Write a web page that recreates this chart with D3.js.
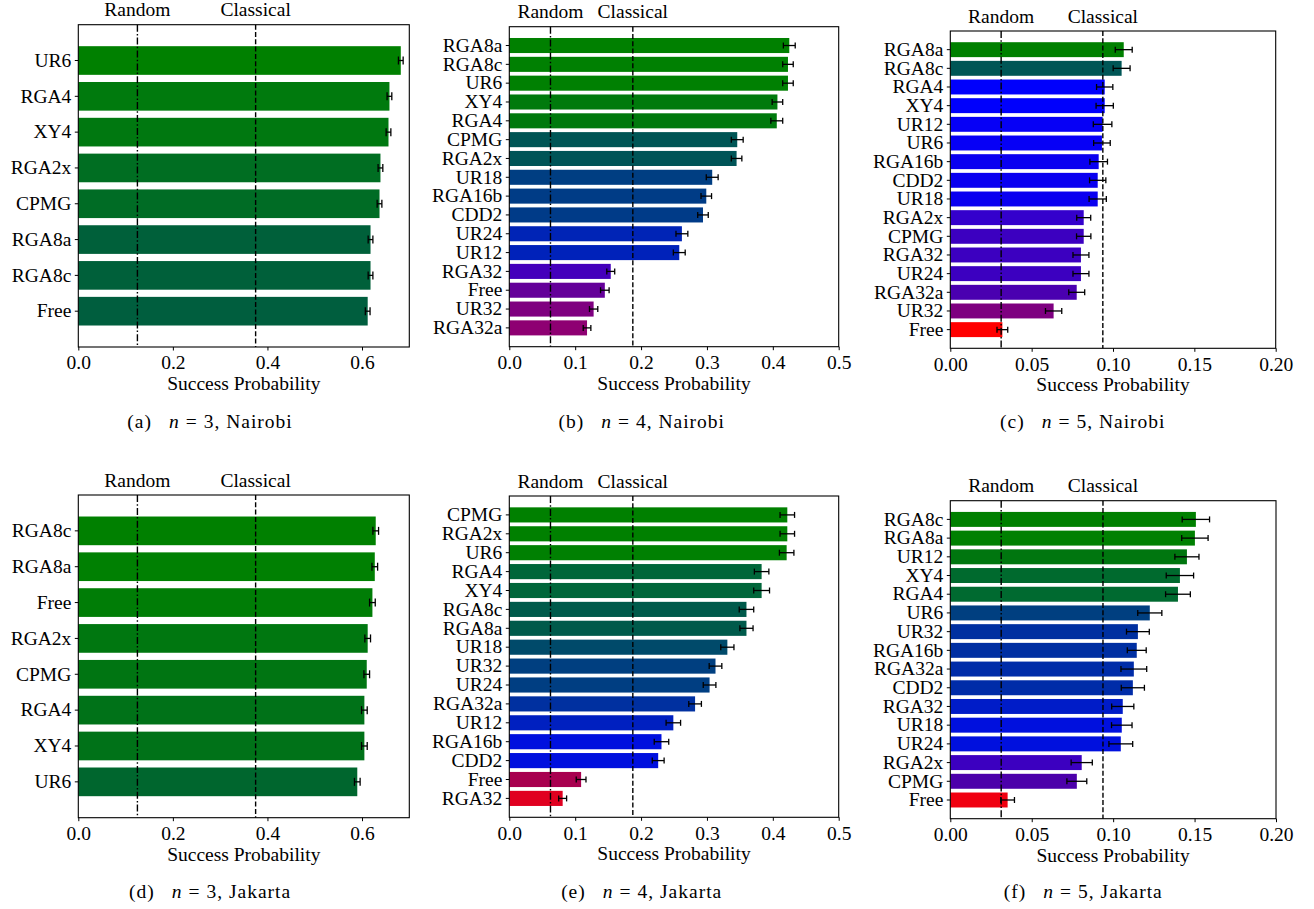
<!DOCTYPE html>
<html>
<head>
<meta charset="utf-8">
<script src="https://cdn.jsdelivr.net/npm/d3@7"></script>
<style>
  html, body { margin: 0; padding: 0; background: #fff; }
</style>
</head>
<body>
<svg id="chart" width="1314" height="909" style="font-family: Tinos, 'Liberation Serif', 'Times New Roman', serif; font-size: 19.5px;"></svg>
<script>
// ---------- DATA ----------
// (a) n = 3, Nairobi
const catsA = ["UR6", "RGA4", "XY4", "RGA2x", "CPMG", "RGA8a", "RGA8c", "Free"];
const valsA = [0.682, 0.658, 0.656, 0.639, 0.637, 0.618, 0.618, 0.612];
const errsA = [0.005, 0.005, 0.005, 0.005, 0.005, 0.005, 0.005, 0.005];
const colorsA = ["#008000", "#007a0d", "#007810", "#006e22", "#006c25", "#00603a", "#00603a", "#005e3e"];

// (b) n = 4, Nairobi
const catsB = ["RGA8a", "RGA8c", "UR6", "XY4", "RGA4", "CPMG", "RGA2x", "UR18", "RGA16b", "CDD2", "UR24", "UR12", "RGA32", "Free", "UR32", "RGA32a"];
const valsB = [0.425, 0.423, 0.423, 0.407, 0.406, 0.346, 0.345, 0.308, 0.299, 0.294, 0.262, 0.258, 0.154, 0.145, 0.128, 0.118];
const errsB = [0.009, 0.008, 0.008, 0.008, 0.009, 0.009, 0.008, 0.009, 0.008, 0.008, 0.009, 0.009, 0.006, 0.0065, 0.0063, 0.0058];
const colorsB = ["#008000", "#008002", "#008002", "#007a0c", "#00790d", "#005555", "#005457", "#003e82", "#003c86", "#003b88", "#0024b6", "#0022ba", "#4400bb", "#640099", "#7f0080", "#8e0072"];

// (c) n = 5, Nairobi
const catsC = ["RGA8a", "RGA8c", "RGA4", "XY4", "UR12", "UR6", "RGA16b", "CDD2", "UR18", "RGA2x", "CPMG", "RGA32", "UR24", "RGA32a", "UR32", "Free"];
const valsC = [0.1066, 0.1053, 0.0949, 0.0949, 0.0936, 0.0932, 0.0912, 0.0906, 0.0906, 0.0820, 0.0820, 0.0803, 0.0803, 0.0777, 0.0635, 0.0320];
const errsC = [0.0052, 0.0052, 0.0050, 0.0053, 0.0057, 0.0051, 0.0054, 0.0050, 0.0053, 0.0043, 0.0044, 0.0049, 0.0049, 0.0049, 0.0050, 0.0033];
const colorsC = ["#008000", "#005656", "#0000fc", "#0000fc", "#0600f6", "#0600f6", "#0a00f0", "#0a00f0", "#0a00f0", "#3400cc", "#3c00c0", "#3c00c0", "#3c00c0", "#4a00b0", "#7e0080", "#ff0000"];

// (d) n = 3, Jakarta
const catsD = ["RGA8c", "RGA8a", "Free", "RGA2x", "CPMG", "RGA4", "XY4", "UR6"];
const valsD = [0.629, 0.627, 0.622, 0.612, 0.610, 0.605, 0.605, 0.590];
const errsD = [0.006, 0.006, 0.006, 0.006, 0.006, 0.006, 0.006, 0.006];
const colorsD = ["#008000", "#008002", "#007d06", "#007710", "#007512", "#007218", "#007218", "#00662e"];

// (e) n = 4, Jakarta
const catsE = ["CPMG", "RGA2x", "UR6", "RGA4", "XY4", "RGA8c", "RGA8a", "UR18", "UR32", "UR24", "RGA32a", "UR12", "RGA16b", "CDD2", "Free", "RGA32"];
const valsE = [0.422, 0.422, 0.421, 0.383, 0.383, 0.360, 0.360, 0.331, 0.313, 0.304, 0.282, 0.249, 0.231, 0.226, 0.109, 0.081];
const errsE = [0.011, 0.011, 0.011, 0.011, 0.012, 0.011, 0.010, 0.010, 0.0096, 0.0096, 0.0096, 0.011, 0.011, 0.009, 0.0074, 0.006];
const colorsE = ["#008000", "#008000", "#008002", "#00663a", "#00663a", "#005a4b", "#005a4b", "#004a6a", "#003f80", "#003e82", "#0030a0", "#0020c0", "#0010de", "#0010de", "#a8004f", "#e00020"];

// (f) n = 5, Jakarta
const catsF = ["RGA8c", "RGA8a", "UR12", "XY4", "RGA4", "UR6", "UR32", "RGA16b", "RGA32a", "CDD2", "RGA32", "UR18", "UR24", "RGA2x", "CPMG", "Free"];
const valsF = [0.1508, 0.1502, 0.1453, 0.1410, 0.1398, 0.1225, 0.1152, 0.1145, 0.1127, 0.1121, 0.1059, 0.1053, 0.1047, 0.0807, 0.0777, 0.0352];
const errsF = [0.0084, 0.0081, 0.0074, 0.0084, 0.0076, 0.0074, 0.0070, 0.0058, 0.0079, 0.0071, 0.0068, 0.0063, 0.0073, 0.0065, 0.0061, 0.0042];
const colorsF = ["#008000", "#008002", "#00760f", "#006a2e", "#006a30", "#003f80", "#0030a0", "#002fa2", "#002ca8", "#002ca8", "#001cc8", "#0010de", "#0010de", "#3c00c0", "#4c00aa", "#f00010"];

// reference lines (random guess and classical bound) for n = 3, 4, 5
const randomLines = [1 / 8, 1 / 16, 1 / 32];
const classicalLines = [3 / 8, 3 / 16, 3 / 32];

// x-axis ticks for n = 3, 4, 5
const ticksN3 = [0, 0.2, 0.4, 0.6];
const ticksN4 = [0, 0.1, 0.2, 0.3, 0.4, 0.5];
const ticksN5 = [0, 0.05, 0.10, 0.15, 0.20];
const xMax = [0.7, 0.5, 0.2];

const captionLetters = ["a", "b", "c", "d", "e", "f"];
const captionN = [3, 4, 5, 3, 4, 5];
const captionDevice = ["Nairobi", "Nairobi", "Nairobi", "Jakarta", "Jakarta", "Jakarta"];

// ---------- LAYOUT ----------
const panels = [
  { cats: catsA, vals: valsA, errs: errsA, colors: colorsA, k: 0, ticks: ticksN3, fmt: ".1f", L: 78.3, R: 409.3, T: 24.7, B: 347, cx: 210, cy: 428.3, cap: 4 },
  { cats: catsB, vals: valsB, errs: errsB, colors: colorsB, k: 1, ticks: ticksN4, fmt: ".1f", L: 509.3, R: 838.7, T: 26.7, B: 346.7, cx: 641.7, cy: 428.3, cap: 3 },
  { cats: catsC, vals: valsC, errs: errsC, colors: colorsC, k: 2, ticks: ticksN5, fmt: ".2f", L: 950.3, R: 1275.7, T: 31, B: 348.3, cx: 1082.8, cy: 428.3, cap: 3 },
  { cats: catsD, vals: valsD, errs: errsD, colors: colorsD, k: 0, ticks: ticksN3, fmt: ".1f", L: 78.3, R: 409.3, T: 495, B: 817.7, cx: 210, cy: 898.3, cap: 4 },
  { cats: catsE, vals: valsE, errs: errsE, colors: colorsE, k: 1, ticks: ticksN4, fmt: ".1f", L: 509.3, R: 838.7, T: 496, B: 817.3, cx: 641.7, cy: 898.3, cap: 3 },
  { cats: catsF, vals: valsF, errs: errsF, colors: colorsF, k: 2, ticks: ticksN5, fmt: ".2f", L: 950.3, R: 1276, T: 500.7, B: 818.7, cx: 1083.3, cy: 898.3, cap: 3 }
];

const svg = d3.select("#chart");

panels.forEach((p, pi) => {
  const g = svg.append("g");
  const x = d3.scaleLinear().domain([0, xMax[p.k]]).range([p.L, p.R]);
  const y = d3.scaleBand().domain(p.cats).range([p.T, p.B]).paddingInner(0.2).paddingOuter(0.6);
  const bw = y.bandwidth();

  // bars
  g.selectAll("rect.bar").data(p.cats).enter().append("rect")
    .attr("class", "bar")
    .attr("x", x(0))
    .attr("y", d => y(d))
    .attr("width", (d, i) => x(p.vals[i]) - x(0))
    .attr("height", bw)
    .attr("fill", (d, i) => p.colors[i]);

  // error bars
  const eb = g.append("g").attr("stroke", "#000").attr("stroke-width", 1.3).attr("fill", "none");
  p.cats.forEach((d, i) => {
    const cy = y(d) + bw / 2;
    const x1 = x(p.vals[i] - p.errs[i]), x2 = x(p.vals[i] + p.errs[i]);
    eb.append("line").attr("x1", x1).attr("x2", x2).attr("y1", cy).attr("y2", cy);
    eb.append("line").attr("x1", x1).attr("x2", x1).attr("y1", cy - p.cap).attr("y2", cy + p.cap);
    eb.append("line").attr("x1", x2).attr("x2", x2).attr("y1", cy - p.cap).attr("y2", cy + p.cap);
  });

  // reference lines
  const rx = x(randomLines[p.k]), clx = x(classicalLines[p.k]);
  g.append("line").attr("x1", rx).attr("x2", rx).attr("y1", p.T).attr("y2", p.B)
    .attr("stroke", "#000").attr("stroke-width", 1.4).attr("stroke-dasharray", "7,2.2,1.5,2.2");
  g.append("line").attr("x1", clx).attr("x2", clx).attr("y1", p.T).attr("y2", p.B)
    .attr("stroke", "#000").attr("stroke-width", 1.4).attr("stroke-dasharray", "5,2.3");
  g.append("text").attr("x", rx).attr("y", p.T - 8.5).attr("text-anchor", "middle").text("Random");
  g.append("text").attr("x", clx).attr("y", p.T - 8.5).attr("text-anchor", "middle").text("Classical");

  // frame
  g.append("rect").attr("x", p.L).attr("y", p.T).attr("width", p.R - p.L).attr("height", p.B - p.T)
    .attr("fill", "none").attr("stroke", "#000").attr("stroke-width", 1.1);

  // axes (inherit the page font instead of d3's default sans-serif)
  const ya = g.append("g").attr("transform", `translate(${p.L},0)`)
    .call(d3.axisLeft(y).tickSize(3.5).tickPadding(3.5));
  ya.attr("font-family", null).attr("font-size", null);
  ya.select(".domain").remove();
  ya.selectAll("text").attr("fill", "#000");
  ya.selectAll("line").attr("stroke", "#000").attr("stroke-width", 1);

  const xa = g.append("g").attr("transform", `translate(0,${p.B})`)
    .call(d3.axisBottom(x).tickValues(p.ticks).tickFormat(d3.format(p.fmt)).tickSize(3.5).tickPadding(3.5));
  xa.attr("font-family", null).attr("font-size", null);
  xa.select(".domain").remove();
  xa.selectAll("text").attr("fill", "#000").attr("dy", "0.78em");
  xa.selectAll("line").attr("stroke", "#000").attr("stroke-width", 1);

  g.append("text").attr("x", (p.L + p.R) / 2).attr("y", p.B + 43).attr("text-anchor", "middle")
    .text("Success Probability");

  // caption
  const cap = g.append("text").attr("x", p.cx).attr("y", p.cy).attr("text-anchor", "middle")
    .attr("letter-spacing", 1);
  cap.append("tspan").text(`(${captionLetters[pi]})`);
  cap.append("tspan").attr("dx", 17).attr("font-style", "italic").text("n");
  cap.append("tspan").attr("dx", 6).text("=");
  cap.append("tspan").attr("dx", 6).text(`${captionN[pi]}, ${captionDevice[pi]}`);
});
</script>
</body>
</html>
